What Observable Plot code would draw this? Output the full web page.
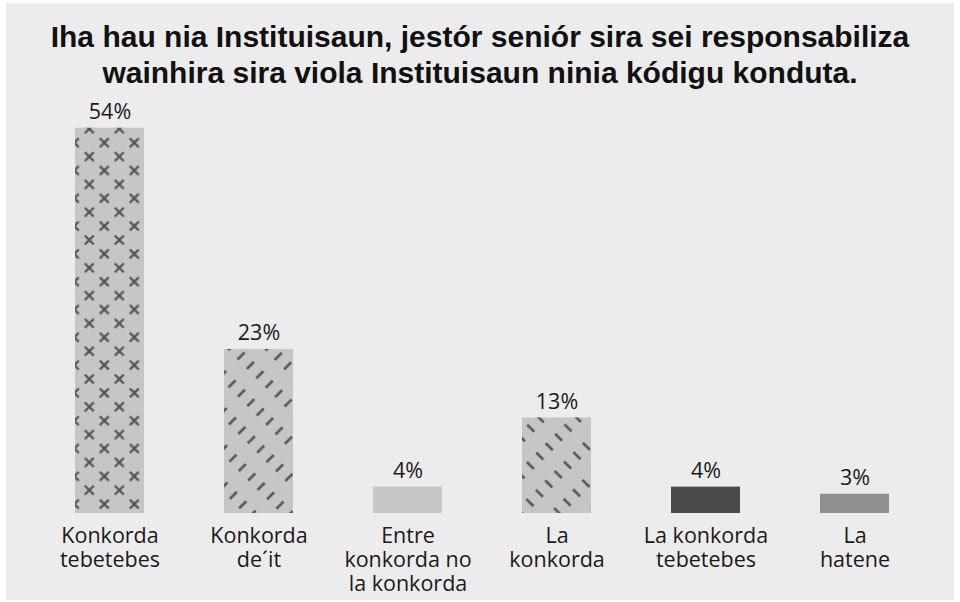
<!DOCTYPE html>
<html><head><meta charset="utf-8">
<script src="https://cdn.jsdelivr.net/npm/d3@7"></script>
<script src="https://cdn.jsdelivr.net/npm/@observablehq/plot@0.6"></script>
<style>
html,body{margin:0;padding:0;background:#fff;width:960px;height:602px;overflow:hidden;}
#panel{position:absolute;left:6px;top:3px;width:948px;height:597px;background:#ececec;}
#title{position:absolute;left:0;top:0;width:960px;text-align:center;font-family:"Liberation Sans Narrow","Arial Narrow","Liberation Sans",sans-serif;font-weight:bold;font-size:30px;line-height:36px;color:#111;padding-top:19px;margin:0;}
#chart{position:absolute;left:0;top:95px;}
</style></head><body>
<div id="panel"></div>
<div id="title">Iha hau nia Instituisaun, jestór seniór sira sei responsabiliza<br>wainhira sira viola Instituisaun ninia kódigu konduta.</div>
<div id="chart"></div>
<script>
const categories = ["Konkorda tebetebes", "Konkorda de´it", "Entre konkorda no la konkorda", "La konkorda", "La konkorda tebetebes", "La hatene"];
const tickLabels = ["Konkorda\ntebetebes", "Konkorda\nde´it", "Entre\nkonkorda no\nla konkorda", "La\nkonkorda", "La konkorda\ntebetebes", "La\nhatene"];
const values = [54, 23, 3.7, 13.4, 3.7, 2.7];
const valueLabels = ["54%", "23%", "4%", "13%", "4%", "3%"];
const barFills = ["url(#pat-cross)", "url(#pat-fwd)", "#c6c6c6", "url(#pat-back)", "#4a4a48", "#8f8f8f"];

const data = categories.map((c, i) => ({category: c, value: values[i], label: valueLabels[i]}));
const font = "'Open Sans', sans-serif";

const chart = Plot.plot({
  width: 960,
  height: 507,
  marginTop: 32.7,
  marginBottom: 89,
  marginLeft: 32.5,
  marginRight: 28.5,
  x: {domain: categories, paddingInner: 0.54, paddingOuter: 0.27, axis: null},
  y: {domain: [0, 54], axis: null},
  color: {domain: categories, range: barFills},
  style: {background: "transparent", fontFamily: font, color: "#1a1a1a", overflow: "visible"},
  marks: [
    Plot.barY(data, {x: "category", y: "value", fill: "category"}),
    Plot.text(data, {x: "category", y: "value", text: "label", dy: -9, lineAnchor: "bottom", fontSize: 21.5, fill: "#1a1a1a"}),
    Plot.axisX({
      tickSize: 0,
      tickPadding: 12,
      fontSize: 21.5,
      lineHeight: 1.12,
      label: null,
      tickFormat: d => tickLabels[categories.indexOf(d)],
      fill: "#1a1a1a"
    })
  ]
});

const defs = document.createElementNS("http://www.w3.org/2000/svg", "defs");
defs.innerHTML = `
<pattern id="pat-cross" patternUnits="userSpaceOnUse" x="74.3" y="33.8" width="30" height="27.8">
  <rect width="30" height="27.8" fill="#c6c6c6"/>
  <g stroke="#555" stroke-width="2.3">
    <path d="M10.5,-4.5L19.5,4.5M19.5,-4.5L10.5,4.5"/>
    <path d="M10.5,23.3L19.5,32.3M19.5,23.3L10.5,32.3"/>
    <path d="M-4.5,9.4L4.5,18.4M4.5,9.4L-4.5,18.4"/>
    <path d="M25.5,9.4L34.5,18.4M34.5,9.4L25.5,18.4"/>
  </g>
</pattern>
<pattern id="pat-fwd" patternUnits="userSpaceOnUse" patternTransform="rotate(45)" x="348.35" y="1.1" width="13.3" height="26">
  <rect x="-1" y="-1" width="16" height="28" fill="#c6c6c6"/>
  <path d="M6.65,8V18" stroke="#555" stroke-width="2.6"/>
</pattern>
<pattern id="pat-back" patternUnits="userSpaceOnUse" patternTransform="rotate(-45)" x="0" y="0" width="13.3" height="26">
  <rect x="-1" y="-1" width="16" height="28" fill="#c6c6c6"/>
  <path d="M6.65,8V18" stroke="#555" stroke-width="2.6"/>
</pattern>`;
chart.insertBefore(defs, chart.firstChild);
document.getElementById("chart").appendChild(chart);
</script>
</body></html>
